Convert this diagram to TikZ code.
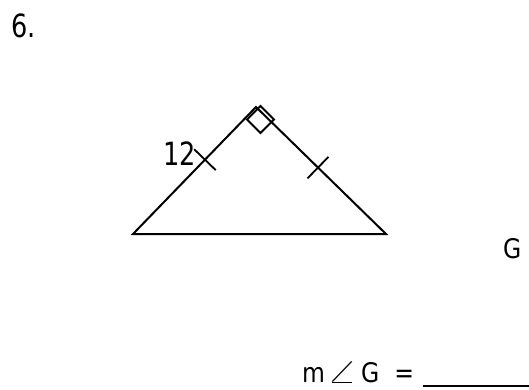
\documentclass[tikz,border=0pt]{standalone}
\usepackage{fontspec}
\setmainfont{DejaVu Sans}[FakeStretch=0.87]
\newfontfamily\narrowfont{DejaVu Sans}[FakeStretch=0.8]
\usepackage{tikz}
\usetikzlibrary{calc,positioning}

\begin{document}
\begin{tikzpicture}[
  x=1pt, y=-1pt,
  txt/.style={font=\fontsize{27}{32}\selectfont, inner sep=0pt, anchor=base west},
  bigtxt/.style={font=\narrowfont\fontsize{32}{38}\selectfont, inner sep=0pt, anchor=base west},
  side/.style={line width=2pt, line join=miter},
  tickmark/.style={line width=1.8pt}
]
\useasboundingbox (0,0) rectangle (529,390);
\node[bigtxt] (num) at (11,38) {6.};
% triangle
\coordinate (A) at (133,234);
\coordinate (B) at (386,234);
\coordinate (C) at (256,107);
\draw[side] (A) -- (C) -- (B) -- cycle;
% right angle box
\draw[side] (260.5,106) -- (274,119.5) -- (260.5,133) -- (247,119.5) -- cycle;
% congruent sides
\coordinate (t1) at ($(A)!0.585!(C)$);
\coordinate (t2) at ($(C)!0.477!(B)$);
\draw[tickmark] ($(t1)!15pt!90:(C)$) -- ($(t1)!15pt!-90:(C)$);
\draw[tickmark] ($(t2)!15pt!90:(B)$) -- ($(t2)!15pt!-90:(B)$);
\node[bigtxt] (len) at (163,165) {12};
\node[txt] (vert) at (503,258) {G};
\node[txt] (ans) at (302,382) {m\hspace{1pt}\resizebox{32pt}{20pt}{$\angle$}\hspace{3pt}G\hspace{15pt}=\hspace{9pt}\rule[-5pt]{120pt}{1.8pt}};
\end{tikzpicture}
\end{document}
